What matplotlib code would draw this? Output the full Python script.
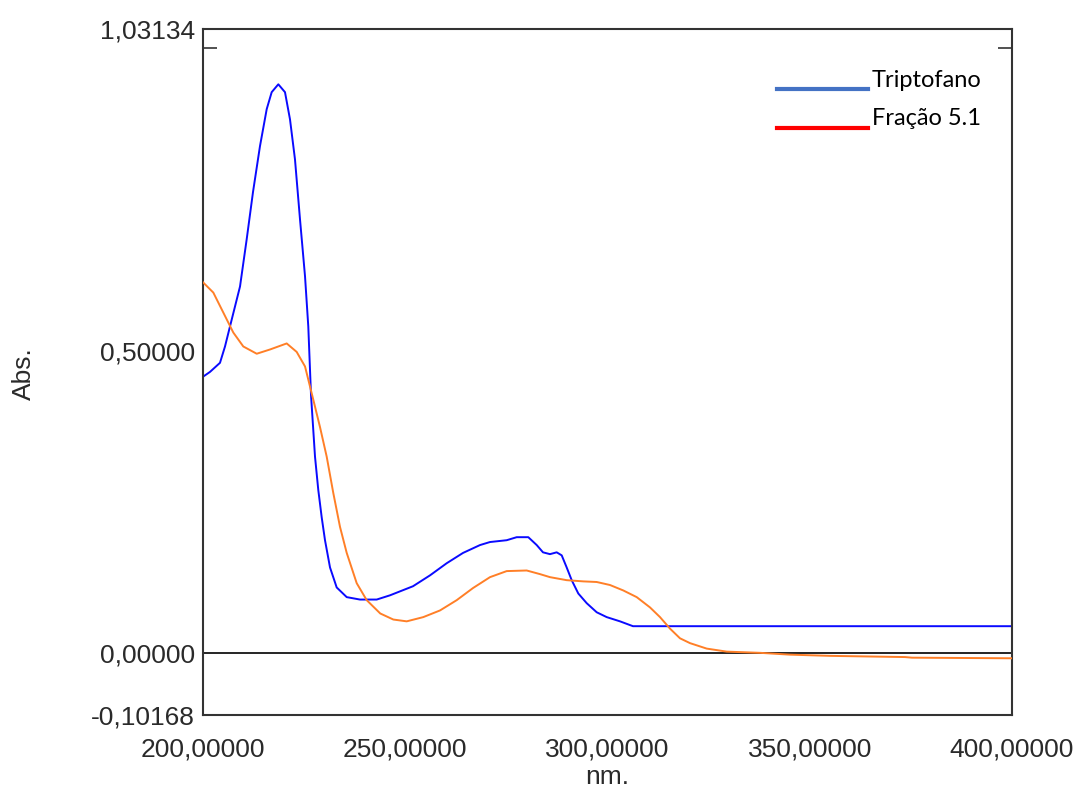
import numpy as np
import matplotlib
matplotlib.use("Agg")
import matplotlib.pyplot as plt
from matplotlib.lines import Line2D

# Triptofano (blue)
trp_nm = [200.00, 201.73, 204.20, 205.44, 206.67, 209.15, 210.80, 212.36, 214.09, 215.75,
          216.98, 218.62, 220.27, 221.51, 222.74, 223.98, 225.22, 226.03, 226.70, 227.69,
          228.50, 229.34, 230.16, 231.40, 233.05, 235.53, 238.81, 242.94, 246.23, 251.92,
          256.13, 260.25, 264.28, 268.48, 270.95, 275.08, 277.55, 280.42, 282.50, 284.05,
          285.78, 287.44, 288.68, 289.91, 291.15, 292.78, 294.86, 297.33, 299.80, 303.09,
          306.30, 400.00]
trp_abs = [0.457, 0.465, 0.480, 0.507, 0.540, 0.606, 0.684, 0.762, 0.838, 0.899,
           0.927, 0.940, 0.927, 0.882, 0.816, 0.717, 0.623, 0.540, 0.427, 0.325,
           0.270, 0.225, 0.187, 0.142, 0.109, 0.093, 0.089, 0.089, 0.096, 0.111,
           0.129, 0.149, 0.166, 0.179, 0.184, 0.187, 0.192, 0.192, 0.179, 0.167,
           0.164, 0.167, 0.162, 0.142, 0.121, 0.099, 0.083, 0.068, 0.060, 0.053,
           0.045, 0.045]

# Fracao 5.1 (orange)
fr_nm = [200.00, 202.55, 205.02, 207.49, 209.96, 213.28, 216.56, 220.69, 223.16, 225.22,
         227.27, 228.92, 230.58, 232.21, 233.87, 235.53, 238.00, 240.47, 243.82, 247.05,
         250.36, 254.46, 258.59, 262.72, 266.75, 270.95, 275.08, 280.02, 283.31, 285.78,
         289.91, 294.02, 297.33, 300.62, 303.91, 307.22, 310.51, 312.98, 315.45, 317.92,
         320.40, 324.52, 329.47, 337.70, 345.12, 355.01, 373.55, 375.28, 400.00]
fr_abs = [0.613, 0.596, 0.563, 0.530, 0.507, 0.495, 0.502, 0.512, 0.498, 0.474,
          0.419, 0.374, 0.325, 0.265, 0.209, 0.166, 0.116, 0.088, 0.066, 0.056,
          0.053, 0.060, 0.071, 0.088, 0.108, 0.126, 0.136, 0.137, 0.131, 0.126,
          0.121, 0.119, 0.118, 0.113, 0.104, 0.093, 0.076, 0.060, 0.041, 0.025,
          0.017, 0.008, 0.003, 0.001, -0.002, -0.004, -0.006, -0.007, -0.008]

y_min, y_max = -0.10168, 1.03134
y_labels = ["-0,10168", "0,00000", "0,50000", "1,03134"]
x_ticks = [200, 250, 300, 350, 400]
x_labels = ["200,00000", "250,00000", "300,00000", "350,00000", "400,00000"]

fig = plt.figure(figsize=(10.78, 7.91), dpi=100)
ax = fig.add_axes([203/1078, 76/791, 809/1078, 686/791])

ax.axhline(0, color="black", lw=1.2, zorder=1)
ax.plot(trp_nm, trp_abs, color="#0A0AFF", lw=1.4, zorder=2)
ax.plot(fr_nm, fr_abs, color="#FF7F27", lw=1.4, zorder=3)

ax.set_xlim(200, 400)
ax.set_ylim(y_min, y_max)

tick_font = dict(family="Liberation Sans", size=19, color="#2a2a2a")
ax.set_yticks([y_min, 0, 0.5, y_max])
ax.set_yticklabels(y_labels, fontdict=tick_font)
ax.set_xticks(x_ticks)
ax.set_xticklabels(x_labels, fontdict=tick_font)
ax.tick_params(axis="both", which="major", length=0)
ax.tick_params(axis="y", which="major", pad=6)
ax.tick_params(axis="x", which="major", pad=16)

ax.set_yticks([0.5, 1.0], minor=True)
ax.set_xticks([250, 300, 350], minor=True)
ax.tick_params(axis="both", which="minor", direction="in", length=10, width=1.1,
               color="#222222", left=True, right=True, bottom=True, top=False)

for s in ax.spines.values():
    s.set_color("#333333")
    s.set_linewidth(1.5)

ax.set_xlabel("nm.", fontdict=tick_font, labelpad=3)
ax.set_ylabel("Abs.", fontdict=tick_font)
ax.yaxis.set_label_coords(-0.207, 0.497)

# legend drawn by hand, like the original
fig.add_artist(Line2D([777/1078, 868/1078], [1-89/791, 1-89/791], color="#4472C4", lw=3))
fig.add_artist(Line2D([777/1078, 868/1078], [1-128/791, 1-128/791], color="#FF0000", lw=3))
leg_font = dict(family="Lato", size=17, color="black")
fig.text(872/1078, 1-87/791, "Triptofano", ha="left", va="baseline", fontdict=leg_font)
fig.text(872/1078, 1-125/791, "Fração 5.1", ha="left", va="baseline", fontdict=leg_font)

fig.savefig("out.png", dpi=100)
